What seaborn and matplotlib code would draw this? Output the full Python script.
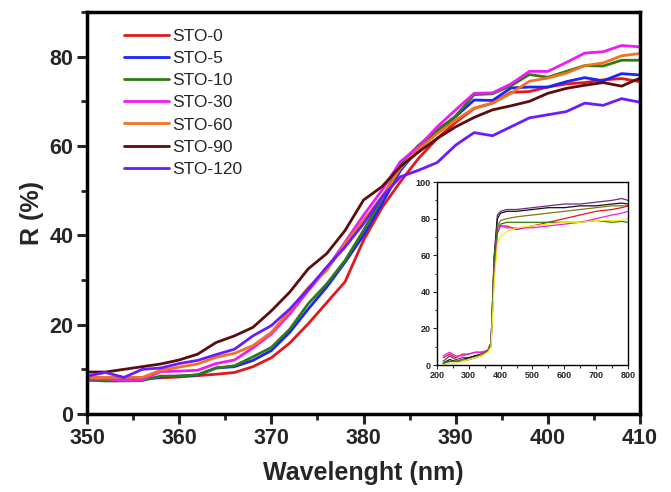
import numpy as np
import pandas as pd
import seaborn as sns
import matplotlib
matplotlib.use("Agg")
import matplotlib.pyplot as plt
from matplotlib.ticker import MultipleLocator
from matplotlib.lines import Line2D

# ---------------- data (main plot) ----------------
wavelength = [350, 352, 354, 356, 358, 360, 362, 364, 366, 368, 370, 372, 374, 376, 378,
              380, 382, 384, 386, 388, 390, 392, 394, 396, 398, 400, 402, 404, 406, 408, 410]

sto_0 = [7.8, 7.8, 7.8, 7.9, 8.1, 8.3, 8.6, 8.9, 9.3, 10.6, 12.6, 15.9, 20.2, 24.9, 29.6,
         38.9, 46.2, 52.0, 57.3, 61.7, 65.3, 68.4, 69.6, 72.0, 72.2, 73.2, 73.9, 74.2, 74.8, 75.1, 74.4]
sto_5 = [7.6, 7.6, 7.7, 7.7, 8.3, 8.5, 8.7, 10.3, 10.6, 12.0, 14.2, 18.3, 23.5, 28.4, 34.0,
         40.0, 47.1, 54.5, 59.5, 63.2, 66.6, 70.3, 70.2, 73.0, 73.2, 73.2, 74.4, 75.3, 74.6, 76.2, 75.9]
sto_10 = [7.6, 7.4, 7.4, 7.5, 8.5, 8.5, 8.8, 10.3, 10.8, 12.8, 14.9, 19.0, 24.7, 29.1, 34.4,
          41.1, 48.3, 56.0, 60.2, 63.6, 66.7, 71.5, 71.7, 73.5, 76.0, 75.4, 76.7, 78.0, 77.9, 79.2, 79.2]
sto_30 = [7.8, 7.9, 7.5, 7.7, 9.5, 9.6, 9.8, 11.3, 12.1, 14.8, 17.9, 22.4, 27.6, 32.5, 38.5,
          44.5, 50.1, 56.5, 59.9, 64.3, 68.1, 71.8, 71.9, 73.9, 76.7, 76.7, 78.7, 80.8, 81.1, 82.5, 82.2]
sto_60 = [8.2, 8.2, 8.2, 8.2, 9.8, 10.5, 11.2, 12.7, 13.6, 15.3, 18.3, 23.1, 28.3, 32.1, 38.1,
          43.4, 48.6, 55.0, 59.3, 62.8, 65.8, 68.5, 69.6, 71.8, 74.5, 75.2, 76.3, 78.0, 78.6, 80.2, 80.7]
sto_90 = [9.4, 9.4, 10.0, 10.6, 11.2, 12.1, 13.4, 16.0, 17.5, 19.4, 23.1, 27.3, 32.5, 35.9, 41.1,
          47.9, 50.9, 55.4, 58.7, 61.7, 64.3, 66.4, 68.1, 69.0, 70.0, 71.8, 72.9, 73.6, 74.2, 73.4, 75.2]
sto_120 = [8.5, 9.3, 8.2, 10.0, 10.3, 11.3, 12.0, 13.3, 14.5, 17.5, 19.8, 23.5, 28.0, 32.9, 37.4,
           42.6, 48.6, 53.1, 54.6, 56.3, 60.2, 63.0, 62.3, 64.3, 66.3, 67.0, 67.7, 69.6, 69.1, 70.6, 69.8]

labels = ["STO-0", "STO-5", "STO-10", "STO-30", "STO-60", "STO-90", "STO-120"]
colors = ["#E0191B", "#1E22FF", "#2F7A12", "#EE1BF5", "#EE7420", "#5C0C0C", "#6A1BFF"]
series = [sto_0, sto_5, sto_10, sto_30, sto_60, sto_90, sto_120]

# ---------------- data (inset) ----------------
inset_x = [220, 240, 260, 280, 300, 320, 340, 360, 370, 380, 390, 400, 420, 450, 500,
           550, 600, 650, 700, 750, 780, 800]
in_purple = [2, 5, 3, 4, 4, 5, 6, 8, 12, 60, 82, 84, 85, 85, 86, 87, 88, 88, 89, 90, 91, 90]
in_black = [1, 3, 2, 3, 4, 5, 6, 8, 12, 58, 80, 83, 84, 84, 85, 86, 86, 87, 87, 88, 88.5, 88]
in_olive = [1, 2, 2, 3, 3, 4, 6, 8, 11, 55, 76, 79, 80, 81, 82, 83, 84, 85, 86, 87, 87, 87]
in_red = [4, 6, 4, 6, 6, 7, 7, 8, 10, 50, 72, 76, 76, 74, 76, 78, 80, 82, 84, 85, 86, 87]
in_magenta = [5, 7, 5, 5, 6, 7, 7, 8, 11, 55, 73, 76, 75, 75, 75, 76, 77, 78, 80, 82, 83, 84]
in_green = [1, 2, 2, 2, 3, 4, 5, 8, 12, 58, 75, 77, 78, 78, 78, 78, 78, 78, 79, 78, 78.5, 78]
in_yellow = [0, 1, 1, 2, 3, 4, 5, 7, 10, 45, 66, 70, 73, 75, 76, 77, 78, 78, 79, 79, 79, 80]
inset_series = [in_purple, in_black, in_olive, in_red, in_magenta, in_green, in_yellow]
inset_names = ["a", "b", "c", "d", "e", "f", "g"]
inset_colors = ["#6B2A8C", "#111111", "#7D7A10", "#E0191B", "#EE1BF5", "#2F7A12", "#F2EE1A"]

# ---------------- build frames ----------------
df = pd.DataFrame({
    "wl": np.tile(wavelength, len(labels)),
    "R": np.concatenate(series),
    "sample": np.repeat(labels, len(wavelength)),
})
dfi = pd.DataFrame({
    "wl": np.tile(inset_x, len(inset_names)),
    "R": np.concatenate(inset_series),
    "s": np.repeat(inset_names, len(inset_x)),
})

sns.set_theme(style="white")
plt.rcParams["font.family"] = ["Liberation Sans", "DejaVu Sans"]

fig = plt.figure(figsize=(6.71, 4.92), dpi=100)
ax = fig.add_axes([0.1297, 0.1585, 0.8241, 0.8171])

sns.lineplot(data=df, x="wl", y="R", hue="sample", hue_order=labels,
             palette=dict(zip(labels, colors)), linewidth=2.0, ax=ax, legend=False)

ax.set_xlim(350, 410)
ax.set_ylim(0, 90)
ax.xaxis.set_major_locator(MultipleLocator(10))
ax.xaxis.set_minor_locator(MultipleLocator(5))
ax.yaxis.set_minor_locator(MultipleLocator(10))
ax.set_yticks([0, 20, 40, 60, 80])
ax.tick_params(which="major", direction="out", length=7, width=2.2, labelsize=15.5, pad=3,
               bottom=True, left=True)
ax.tick_params(which="minor", direction="out", length=4, width=2.0, bottom=True, left=True)
for lab in ax.get_xticklabels() + ax.get_yticklabels():
    lab.set_fontweight("bold")
for sp in ax.spines.values():
    sp.set_linewidth(2.5)
    sp.set_color("black")
ax.set_xlabel("Wavelenght (nm)", fontsize=18, fontweight="bold", labelpad=9)
ax.set_ylabel("R (%)", fontsize=18, fontweight="bold", labelpad=4)

handles = [Line2D([0], [0], color=c, lw=2.0) for c in colors]
ax.legend(handles, labels, loc="upper left", bbox_to_anchor=(0.055, 0.975),
          frameon=False, fontsize=12.5, handlelength=2.55, handletextpad=0.2,
          labelspacing=0.4, borderaxespad=0)

# ---------------- inset ----------------
axi = fig.add_axes([0.651, 0.258, 0.285, 0.372])
sns.lineplot(data=dfi, x="wl", y="R", hue="s", hue_order=inset_names,
             palette=dict(zip(inset_names, inset_colors)), linewidth=0.9, ax=axi, legend=False)
axi.set_xlim(200, 800)
axi.set_ylim(0, 100)
axi.xaxis.set_major_locator(MultipleLocator(100))
axi.xaxis.set_minor_locator(MultipleLocator(50))
axi.yaxis.set_major_locator(MultipleLocator(20))
axi.yaxis.set_minor_locator(MultipleLocator(10))
axi.tick_params(which="major", direction="out", length=3, width=0.8, labelsize=6.5, pad=1.5,
                bottom=True, left=True)
axi.tick_params(which="minor", direction="out", length=1.8, width=0.8, bottom=True, left=True)
for lab in axi.get_xticklabels() + axi.get_yticklabels():
    lab.set_fontweight("bold")
for sp in axi.spines.values():
    sp.set_linewidth(1.0)
    sp.set_color("black")
axi.set_xlabel("")
axi.set_ylabel("")

fig.savefig("out.png", dpi=100)
